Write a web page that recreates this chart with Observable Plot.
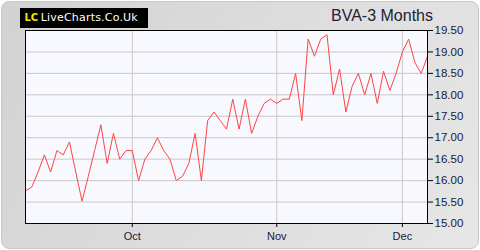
<!DOCTYPE html>
<html>
<head>
<meta charset="utf-8">
<script src="https://cdn.jsdelivr.net/npm/d3@7"></script>
<script src="https://cdn.jsdelivr.net/npm/@observablehq/plot@0.6"></script>
<style>
  html, body { margin: 0; padding: 0; background: #ffffff; }
  #wrap {
    position: relative; width: 480px; height: 250px; overflow: hidden;
  }
  #bg {
    position: absolute; left: 1px; top: 1px; width: 476px; height: 246px;
    border-radius: 8px; border: 1px solid #c8c8c8;
    background: linear-gradient(120deg, #d2d2d2 0%, #dedede 55%, #e6e6e6 100%);
  }
  #chart { position: absolute; left: 0; top: 0; }
  #logo {
    position: absolute; left: 20px; top: 8px; width: 128px; height: 20px; background: #000;
    font-family: "DejaVu Sans", sans-serif; font-size: 11px; line-height: 20px; white-space: nowrap;
  }
  #logo .lc { position: absolute; left: 4.5px; top: 0; color: #f2e600; font-weight: bold; font-size: 10px; }
  #logo .site { position: absolute; left: 20.7px; top: 0; color: #ffffff; letter-spacing: 0.2px; }
  #title {
    position: absolute; left: 0; width: 433px; top: 7.5px; text-align: right;
    font-family: "Liberation Sans", Arial, sans-serif; font-size: 16px; line-height: 16px; color: #222233;
  }
</style>
</head>
<body>
<div id="wrap">
  <div id="bg"></div>
  <div id="chart"></div>
  <div id="logo"><span class="lc">LC</span><span class="site">LiveCharts.Co.Uk</span></div>
  <div id="title">BVA-3 Months</div>
</div>
<script>
// Closing prices, one per trading day (about 3 months)
const prices = [
  15.76, 15.85, 16.2, 16.6, 16.2, 16.7, 16.6, 16.9, 16.2, 15.52,
  16.1, 16.7, 17.3, 16.4, 17.1, 16.5, 16.7, 16.7, 16.0, 16.5,
  16.7, 17.0, 16.7, 16.5, 16.0, 16.1, 16.4, 17.1, 16.0, 17.4,
  17.6, 17.4, 17.2, 17.9, 17.2, 17.9, 17.1, 17.5, 17.8, 17.9,
  17.8, 17.9, 17.9, 18.5, 17.4, 19.3, 18.9, 19.3, 19.4, 18.0,
  18.6, 17.6, 18.2, 18.5, 18.0, 18.5, 17.8, 18.55, 18.1, 18.5,
  19.0, 19.3, 18.75, 18.5, 18.9
];
// Month labels and the trading-day index where each month starts
const monthLabels = ["Oct", "Nov", "Dec"];
const monthIndex = [17, 40, 60];
// Price axis ticks
const yTicks = [15.0, 15.5, 16.0, 16.5, 17.0, 17.5, 18.0, 18.5, 19.0, 19.5];

const data = prices.map((v, i) => ({i, v}));

const chart = Plot.plot({
  width: 480,
  height: 250,
  marginLeft: 25,
  marginRight: 53,
  marginTop: 30,
  marginBottom: 27,
  style: {background: "transparent", fontFamily: "'Liberation Sans', Arial, sans-serif", fontSize: "11px", color: "#1a1a33"},
  x: {domain: [0, prices.length - 1]},
  y: {domain: [15, 19.5]},
  marks: [
    Plot.frame({fill: "#f8f8ff", stroke: null}),
    Plot.gridX(monthIndex, {stroke: "#c8c8c8", strokeOpacity: 1}),
    Plot.gridY(yTicks.slice(1, -1), {stroke: "#c8c8c8", strokeOpacity: 1}),
    Plot.lineY(data, {x: "i", y: "v", stroke: "#ff4444", strokeWidth: 1}),
    Plot.frame({stroke: "#000", strokeWidth: 1}),
    Plot.axisY(yTicks, {anchor: "right", tickFormat: d => d.toFixed(2), tickSize: 5, tickPadding: 2, stroke: "#000", fill: "#1a1a33", label: null, fontSize: 11.5}),
    Plot.axisX(monthIndex, {anchor: "bottom", tickFormat: d => monthLabels[monthIndex.indexOf(d)], tickSize: 4, tickPadding: 5, stroke: "#000", fill: "#1a1a33", label: null})
  ]
});
document.getElementById("chart").appendChild(chart);
</script>
</body>
</html>
